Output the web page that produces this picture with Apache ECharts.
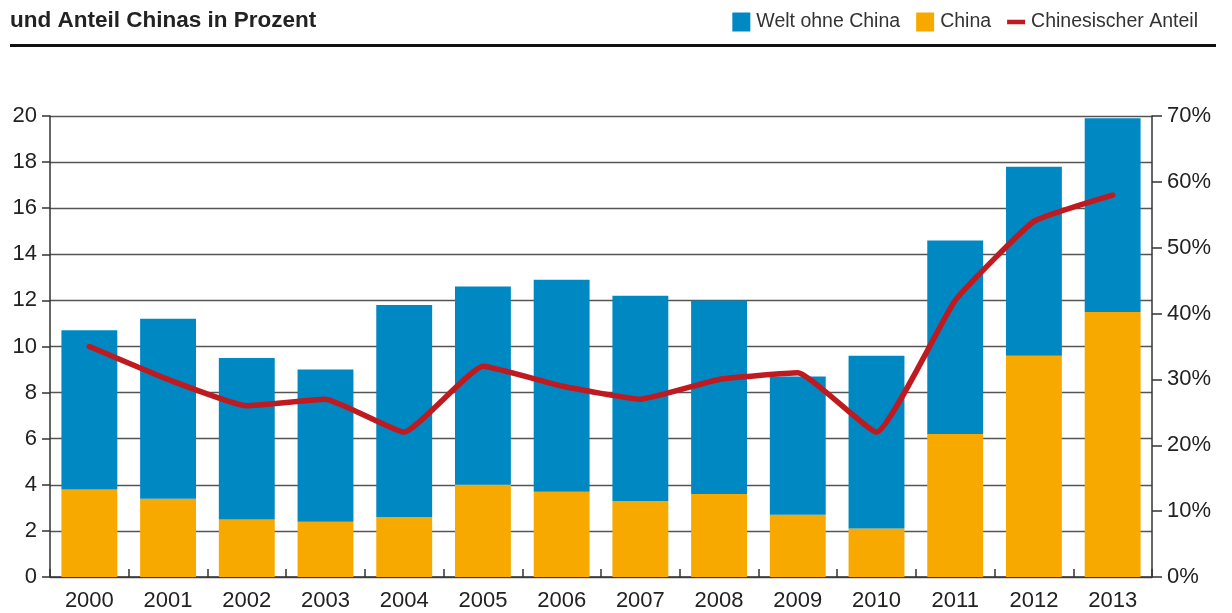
<!DOCTYPE html>
<html>
<head>
<meta charset="utf-8">
<script src="https://cdn.jsdelivr.net/npm/echarts@6/dist/echarts.min.js"></script>
<style>
html,body{margin:0;padding:0;background:#fff;}
#chart{width:1232px;height:613px;}
</style>
</head>
<body>
<div id="chart"></div>
<script>
const years = ['2000','2001','2002','2003','2004','2005','2006','2007','2008','2009','2010','2011','2012','2013'];
const china = [3.8, 3.4, 2.5, 2.4, 2.6, 4.0, 3.7, 3.3, 3.6, 2.7, 2.1, 6.2, 9.6, 11.5];
const weltOhneChina = [6.9, 7.8, 7.0, 6.6, 9.2, 8.6, 9.2, 8.9, 8.4, 6.0, 7.5, 8.4, 8.2, 8.4];
const chinaAnteil = [35, 30, 26, 27, 22, 32, 29, 27, 30, 31, 22, 42, 54, 58];
const leftTicks = [0, 20, 2];
const rightTicks = [0, 70, 10];

const FONT = '"Liberation Sans", Arial, Helvetica, sans-serif';
const chart = echarts.init(document.getElementById('chart'));
chart.setOption({
  animation: false,
  textStyle: { fontFamily: FONT },
  title: {
    text: 'und Anteil Chinas in Prozent',
    left: 5, top: 4,
    textStyle: { fontFamily: FONT, fontSize: 22.5, fontWeight: 'bold', color: '#222' }
  },
  graphic: [{
    type: 'rect',
    shape: { x: 10, y: 44, width: 1206, height: 3 },
    style: { fill: '#111' }
  }],
  legend: {
    right: 29, top: 7,
    itemGap: 16,
    itemWidth: 18, itemHeight: 19,
    textStyle: { fontFamily: FONT, fontSize: 19.5, color: '#333', padding: [0, 0, 0, 1] },
    data: [
      { name: 'Welt ohne China', icon: 'rect' },
      { name: 'China', icon: 'rect' },
      { name: 'Chinesischer Anteil', icon: 'path://M0,0 L18,0 L18,4.5 L0,4.5 Z' }
    ]
  },
  grid: { left: 50, right: 80, top: 116, bottom: 36 },
  xAxis: {
    type: 'category',
    data: years,
    boundaryGap: true,
    axisLine: { lineStyle: { color: '#333', width: 1.5 } },
    axisTick: { show: true, inside: true, length: 8, interval: 0, lineStyle: { color: '#333', width: 1.5 } },
    axisLabel: { fontFamily: FONT, fontSize: 22, color: '#222', margin: 13, interval: 0 }
  },
  yAxis: [{
    type: 'value',
    min: leftTicks[0], max: leftTicks[1], interval: leftTicks[2],
    axisLine: { show: true, lineStyle: { color: '#333', width: 1.5 } },
    axisTick: { show: true, length: 8, lineStyle: { color: '#333', width: 1.5 } },
    axisLabel: { fontFamily: FONT, fontSize: 22, color: '#222', margin: 13 },
    splitLine: { show: true, lineStyle: { color: '#555', width: 1.3 } }
  }, {
    type: 'value',
    position: 'right',
    min: rightTicks[0], max: rightTicks[1], interval: rightTicks[2],
    axisLine: { show: true, lineStyle: { color: '#333', width: 1.5 } },
    axisTick: { show: true, length: 10, lineStyle: { color: '#333', width: 1.5 } },
    axisLabel: { fontFamily: FONT, fontSize: 22, color: '#222', margin: 15, formatter: '{value}%' },
    splitLine: { show: false }
  }],
  series: [{
    name: 'China',
    type: 'bar',
    stack: 'total',
    data: china,
    barWidth: '71%',
    itemStyle: { color: '#f7a900' }
  }, {
    name: 'Welt ohne China',
    type: 'bar',
    stack: 'total',
    data: weltOhneChina,
    barWidth: '71%',
    itemStyle: { color: '#0088c3' }
  }, {
    name: 'Chinesischer Anteil',
    type: 'line',
    yAxisIndex: 1,
    data: chinaAnteil,
    smooth: 0.12,
    showSymbol: false,
    symbol: 'none',
    lineStyle: { color: '#be1a1f', width: 5.5, join: 'round', cap: 'round' },
    itemStyle: { color: '#be1a1f' },
    z: 5
  }]
});
</script>
</body>
</html>
